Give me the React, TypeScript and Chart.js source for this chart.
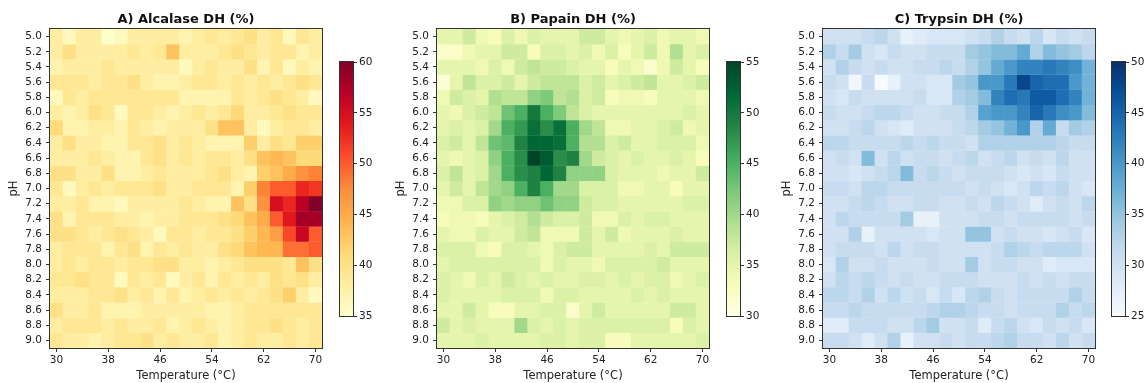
import React, { useEffect, useRef } from 'react';
import { Chart, registerables } from 'chart.js';
Chart.register(...registerables);

const FONT = "'DejaVu Sans', sans-serif";
Chart.defaults.font.family = FONT;

const temperatures = [30, 32, 34, 36, 38, 40, 42, 44, 46, 48, 50, 52, 54, 56, 58, 60, 62, 64, 66, 68, 70];
const phLevels = [5.0, 5.2, 5.4, 5.6, 5.8, 6.0, 6.2, 6.4, 6.6, 6.8, 7.0, 7.2, 7.4, 7.6, 7.8, 8.0, 8.2, 8.4, 8.6, 8.8, 9.0];
const tempTickLabels = ['30', '38', '46', '54', '62', '70'];

// rows = pH (5.0 -> 9.0), columns = temperature (30 -> 70)
const alcalaseDH = [
  [38,36,38,38,35,36,38,38,38,38,37,38,39,38,39,40,38,39,36,39,38],
  [38,40,38,38,38,38,39,38,39,43,38,38,38,39,40,39,38,39,39,37,38],
  [37,38,38,38,39,38,38,38,38,38,36,38,39,38,38,40,37,39,36,38,37],
  [39,39,39,38,39,39,40,38,37,37,38,39,39,38,39,38,39,38,39,40,39],
  [36,39,38,39,39,39,39,39,39,39,37,37,37,37,39,38,39,40,39,38,36],
  [38,37,38,40,39,36,39,39,38,37,38,39,38,39,41,38,38,39,40,39,39],
  [41,37,37,38,38,37,39,38,37,38,38,38,40,43,43,38,36,38,39,39,38],
  [38,40,38,38,37,37,39,39,40,38,39,38,37,37,37,42,38,40,39,42,42],
  [38,38,38,39,38,37,37,39,40,38,39,38,39,39,38,40,43,44,43,41,41],
  [40,40,38,38,40,37,37,38,39,38,38,38,39,40,38,37,42,43,45,47,48],
  [39,36,38,39,38,39,39,39,40,38,38,39,39,39,37,42,48,50,50,53,52],
  [38,38,39,37,37,36,38,38,38,38,39,38,37,37,43,40,47,55,53,57,60],
  [40,37,39,39,39,38,38,37,38,38,39,39,39,40,41,43,45,50,54,58,58],
  [40,40,39,38,39,40,39,38,36,39,39,38,39,39,40,42,44,46,51,56,50],
  [38,39,39,39,37,39,40,37,39,38,39,38,38,40,41,43,44,44,49,49,50],
  [38,39,38,39,39,38,39,39,40,40,38,38,37,38,39,40,40,40,39,43,40],
  [39,39,40,39,39,36,39,38,39,36,38,39,37,39,38,39,38,40,39,40,38],
  [38,38,38,39,39,40,38,39,37,39,37,38,39,38,39,38,39,40,42,38,36],
  [40,38,38,39,37,37,37,38,38,38,38,38,37,37,38,39,39,39,39,39,39],
  [38,39,39,39,38,39,38,38,39,37,38,39,38,37,38,39,39,40,39,38,39],
  [39,38,38,37,38,39,39,40,38,39,38,38,39,37,38,39,38,38,39,38,39],
];

const papainDH = [
  [35,35,37,34,33,36,34,36,35,35,35,37,37,35,34,35,36,34,35,35,34],
  [32,32,34,35,35,37,37,33,36,36,35,36,34,36,33,35,37,34,39,35,36],
  [35,35,35,34,36,34,37,38,37,37,36,35,35,33,35,34,32,34,37,35,33],
  [31,35,38,36,36,37,35,37,38,38,38,36,37,35,36,37,38,35,35,36,37],
  [34,37,36,35,39,38,38,41,42,38,39,36,37,33,34,34,33,35,35,35,34],
  [35,34,36,37,38,43,45,50,45,42,38,36,35,35,35,35,35,35,35,36,35],
  [35,36,35,36,40,45,47,51,48,51,45,40,38,34,34,35,35,36,37,34,35],
  [36,37,35,38,43,44,49,52,52,51,45,39,39,36,37,35,35,36,36,36,34],
  [35,34,35,36,41,45,48,55,53,48,49,40,37,36,35,36,35,35,36,35,33],
  [36,38,35,36,40,45,48,49,52,49,41,41,41,36,35,35,35,34,35,35,37],
  [35,37,35,38,40,41,45,49,45,40,40,36,36,36,34,34,35,35,33,35,35],
  [34,34,36,36,41,40,41,41,43,41,41,37,36,36,35,35,35,35,35,36,36],
  [33,34,34,33,35,36,37,39,37,36,36,37,34,34,36,35,36,36,35,35,35],
  [35,34,34,36,35,35,37,38,34,34,34,37,35,37,34,35,35,35,36,35,35],
  [36,36,36,34,33,36,36,35,34,36,37,37,35,35,35,35,36,35,37,37,37],
  [35,36,36,36,36,36,36,36,34,36,35,35,34,36,36,36,36,37,35,35,35],
  [36,35,34,36,35,37,36,35,36,35,35,36,36,35,36,35,36,36,34,35,36],
  [36,35,35,35,35,36,36,36,34,36,36,35,35,35,35,36,35,36,35,35,35],
  [35,35,37,35,33,33,35,35,36,36,32,35,37,35,35,35,35,35,37,37,35],
  [37,35,36,35,35,35,40,36,35,36,35,36,36,36,36,36,36,36,33,36,35],
  [35,35,35,36,35,35,35,35,36,36,35,36,36,33,33,35,35,35,35,35,36],
];

const trypsinDH = [
  [30,30,30,31,32,30,27,28,29,29,29,30,31,33,31,30,32,29,31,30,31],
  [33,31,34,30,29,31,30,30,31,31,31,34,35,36,36,38,33,36,35,34,32],
  [30,33,31,30,31,30,30,31,31,32,31,33,35,38,40,42,42,43,42,41,37],
  [31,30,26,31,25,27,30,30,29,29,34,35,40,40,43,48,45,44,44,40,37],
  [30,29,31,30,30,30,30,31,29,29,33,34,36,42,44,43,46,46,44,42,37],
  [31,30,30,31,32,32,31,30,30,31,31,33,39,40,40,42,45,43,41,40,36],
  [30,30,31,32,30,29,28,30,30,30,31,32,34,35,37,40,33,38,31,34,33],
  [32,32,31,31,31,31,32,31,32,31,31,30,33,33,33,33,33,33,32,31,31],
  [30,31,30,36,30,32,30,31,31,30,31,32,30,31,32,30,31,30,32,30,30],
  [30,30,29,30,31,32,36,31,32,31,30,31,31,31,30,29,30,29,31,30,30],
  [31,31,30,32,32,31,31,31,31,31,31,30,31,30,29,30,32,31,32,30,29],
  [30,30,31,32,31,30,30,31,31,30,30,31,30,32,31,30,28,30,31,30,32],
  [30,32,31,31,31,31,34,27,27,30,30,30,31,31,30,31,31,31,31,30,31],
  [30,30,33,27,30,30,30,30,29,30,30,35,35,30,31,30,30,29,30,31,29],
  [30,31,31,31,30,32,30,31,31,30,30,30,30,31,33,32,31,32,32,32,30],
  [29,33,30,30,31,30,30,30,31,30,30,34,30,31,31,30,30,28,29,29,29],
  [30,32,31,32,31,30,31,30,30,31,31,31,30,30,30,31,30,31,30,31,31],
  [32,32,31,33,30,32,30,31,29,31,29,32,33,31,30,31,31,31,31,33,31],
  [31,31,32,31,31,31,31,31,32,33,33,32,31,31,30,31,31,31,33,31,32],
  [28,28,31,31,31,30,30,32,34,30,30,31,28,31,32,30,29,31,30,31,29],
  [31,31,30,28,30,33,27,30,30,31,30,31,31,32,33,31,31,30,32,30,31],
];

const alcalaseRange = [35, 60];
const papainRange = [30, 55];
const trypsinRange = [25, 50];

const YlOrRd = ['#ffffcc', '#ffeda0', '#fed976', '#feb24c', '#fd8d3c', '#fc4e2a', '#e31a1c', '#bd0026', '#800026'];
const YlGn = ['#ffffe5', '#f7fcb9', '#d9f0a3', '#addd8e', '#78c679', '#41ab5d', '#238443', '#006837', '#004529'];
const Blues = ['#f7fbff', '#deebf7', '#c6dbef', '#9ecae1', '#6baed6', '#4292c6', '#2171b5', '#08519c', '#08306b'];

function hexToRgb(h: string) {
  return [parseInt(h.slice(1, 3), 16), parseInt(h.slice(3, 5), 16), parseInt(h.slice(5, 7), 16)];
}

function colorFor(cmap: string[], v: number, range: number[]) {
  let t = (v - range[0]) / (range[1] - range[0]);
  t = Math.max(0, Math.min(1, t));
  const pos = t * (cmap.length - 1);
  const i = Math.min(cmap.length - 2, Math.floor(pos));
  const f = pos - i;
  const a = hexToRgb(cmap[i]);
  const b = hexToRgb(cmap[i + 1]);
  const c = a.map((x, k) => Math.round(x + (b[k] - x) * f));
  return `rgb(${c[0]},${c[1]},${c[2]})`;
}

const framePlugin = {
  id: 'frame',
  afterDatasetsDraw(chart: any) {
    const a = chart.chartArea;
    const ctx = chart.ctx;
    ctx.save();
    ctx.strokeStyle = '#333';
    ctx.lineWidth = 1;
    ctx.strokeRect(Math.round(a.left) - 0.5, Math.round(a.top) - 0.5, Math.round(a.right - a.left) + 1, Math.round(a.bottom - a.top) + 1);
    ctx.restore();
  },
};

// panel title centred over the plot area (matplotlib style)
const panelTitlePlugin = {
  id: 'panelTitle',
  afterDraw(chart: any, _args: any, opts: any) {
    if (!opts || !opts.text) return;
    const a = chart.chartArea;
    const ctx = chart.ctx;
    ctx.save();
    ctx.font = `bold 13px ${FONT}`;
    ctx.fillStyle = '#111';
    ctx.textAlign = 'center';
    ctx.textBaseline = 'middle';
    ctx.fillText(opts.text, (a.left + a.right) / 2, 19.5);
    ctx.restore();
  },
};

const TICK_COLOR = '#222';

function Heatmap({ values, title, cmap, range, left }: any) {
  const ref = useRef<HTMLCanvasElement>(null);
  useEffect(() => {
    const datasets = phLevels.map((ph, r) => ({
      label: ph.toFixed(1),
      data: temperatures.map(() => [ph - 0.102, ph + 0.102]),
      backgroundColor: values[r].map((v: number) => colorFor(cmap, v, range)),
      borderWidth: 0,
      barPercentage: 1.04,
      categoryPercentage: 1,
      grouped: false,
      clip: 0,
    }));
    const chart = new Chart(ref.current!, {
      type: 'bar',
      data: { labels: temperatures.map(String), datasets },
      plugins: [framePlugin, panelTitlePlugin],
      options: {
        animation: false,
        responsive: false,
        maintainAspectRatio: false,
        events: [],
        layout: { padding: { left: 0, right: 8, top: 29, bottom: 0 } },
        plugins: {
          legend: { display: false },
          tooltip: { enabled: false },
          title: { display: false },
          panelTitle: { text: title },
        },
        scales: {
          x: {
            type: 'category',
            offset: true,
            grid: { offset: false, drawOnChartArea: false, drawTicks: true, tickLength: 4, color: '#333' },
            border: { display: false },
            ticks: {
              autoSkip: false,
              maxRotation: 0,
              padding: 2,
              color: TICK_COLOR,
              font: { size: 10.5 },
              callback: (_v: any, i: number) => {
                const s = String(temperatures[i]);
                return tempTickLabels.includes(s) ? s : null;
              },
            },
            title: {
              display: true,
              text: 'Temperature (°C)',
              color: TICK_COLOR,
              font: { size: 11.5 },
              padding: { top: 0, bottom: 0 },
            },
            afterFit: (s: any) => { s.height = 35; },
          },
          y: {
            type: 'linear',
            reverse: true,
            min: 4.9,
            max: 9.1,
            afterBuildTicks: (s: any) => { s.ticks = phLevels.map((v) => ({ value: v })); },
            grid: { drawOnChartArea: false, drawTicks: true, tickLength: 4, color: '#333' },
            border: { display: false },
            ticks: {
              autoSkip: false,
              padding: 4,
              color: TICK_COLOR,
              font: { size: 10.5 },
              callback: (v: any) => Number(v).toFixed(1),
            },
            title: {
              display: true,
              text: 'pH',
              color: TICK_COLOR,
              font: { size: 11.5 },
              padding: { top: 9, bottom: 0 },
            },
            afterFit: (s: any) => { s.width = 52; },
          },
        },
      } as any,
    });
    return () => chart.destroy();
  }, []);
  return (
    <canvas ref={ref} width={332} height={383}
      style={{ position: 'absolute', left, top: 0, width: 332, height: 383 }} />
  );
}

function Colorbar({ cmap, range, left }: any) {
  const ref = useRef<HTMLCanvasElement>(null);
  useEffect(() => {
    const chart = new Chart(ref.current!, {
      type: 'bar',
      data: {
        labels: [''],
        datasets: [{
          data: [[range[0], range[1]]],
          backgroundColor: (ctx: any) => {
            const a = ctx.chart.chartArea;
            if (!a) return cmap[0];
            const g = ctx.chart.ctx.createLinearGradient(0, a.bottom, 0, a.top);
            for (let i = 0; i <= 50; i++) {
              const v = range[0] + (range[1] - range[0]) * (i / 50);
              g.addColorStop(i / 50, colorFor(cmap, v, range));
            }
            return g;
          },
          borderWidth: 0,
          barPercentage: 1,
          categoryPercentage: 1,
        }],
      },
      plugins: [framePlugin],
      options: {
        animation: false,
        responsive: false,
        maintainAspectRatio: false,
        events: [],
        layout: { padding: { left: 10, right: 0, top: 62, bottom: 67 } },
        plugins: { legend: { display: false }, tooltip: { enabled: false } },
        scales: {
          x: { display: false },
          y: {
            position: 'right',
            min: range[0],
            max: range[1],
            grid: { drawOnChartArea: false, drawTicks: true, tickLength: 4, color: '#333' },
            border: { display: false },
            ticks: { stepSize: 5, padding: 2, color: TICK_COLOR, font: { size: 10.5 } },
            afterFit: (s: any) => { s.width = 27; },
          },
        },
      } as any,
    });
    return () => chart.destroy();
  }, []);
  return (
    <canvas ref={ref} width={50} height={383}
      style={{ position: 'absolute', left, top: 0, width: 50, height: 383 }} />
  );
}

export default function App() {
  useEffect(() => {
    document.body.style.margin = '0';
  }, []);
  return (
    <div style={{ position: 'relative', width: 1147, height: 383, background: '#fff', overflow: 'hidden' }}>
      <Heatmap values={alcalaseDH} title="A) Alcalase DH (%)" cmap={YlOrRd} range={alcalaseRange} left={-2} />
      <Colorbar cmap={YlOrRd} range={alcalaseRange} left={330} />
      <Heatmap values={papainDH} title="B) Papain DH (%)" cmap={YlGn} range={papainRange} left={385} />
      <Colorbar cmap={YlGn} range={papainRange} left={717} />
      <Heatmap values={trypsinDH} title="C) Trypsin DH (%)" cmap={Blues} range={trypsinRange} left={771} />
      <Colorbar cmap={Blues} range={trypsinRange} left={1102} />
    </div>
  );
}
